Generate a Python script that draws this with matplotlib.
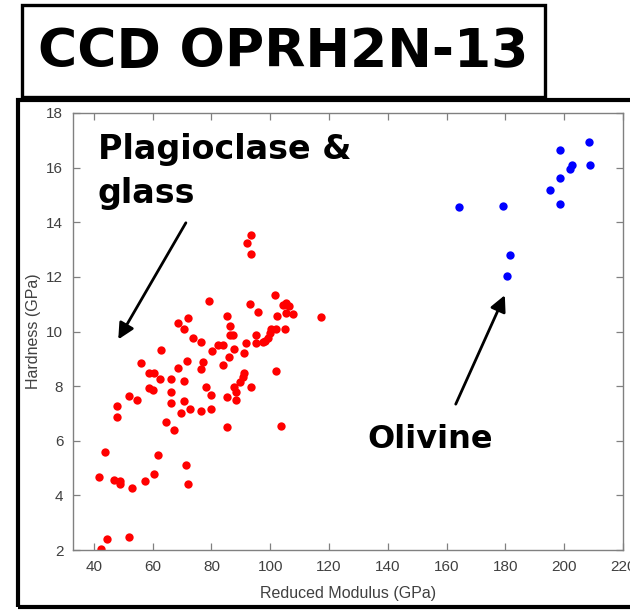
import matplotlib
matplotlib.use('Agg')
import matplotlib.pyplot as plt
from matplotlib.patches import Rectangle

# ================== data ==================
title_text = 'CCD OPRH2N-13'

# Plagioclase & glass (red)
plag_modulus = [71.9, 68.7, 70.7, 73.6, 62.8, 55.9, 71.7, 68.5, 58.7, 60.4,
                62.4, 66.2, 70.7, 58.7, 60.2, 51.9, 54.7, 66.1, 66.1, 70.7,
                47.8, 72.7, 69.6, 47.8, 64.6, 67.3, 93.6, 92.0, 93.5, 79.1,
                93.0, 101.5, 104.2, 105.5, 106.4, 105.2, 107.7, 96.0, 102.3, 117.3,
                85.3, 86.3, 86.4, 87.4, 100.3, 101.9, 104.9, 99.9, 95.2, 76.6,
                99.4, 98.3, 97.5, 91.9, 95.0, 82.2, 83.9, 80.2, 87.6, 91.0,
                85.9, 77.2, 83.8, 76.4, 102.1, 91.0, 90.6, 89.8, 78.0, 87.6,
                93.4, 79.8, 85.3, 88.2, 88.5, 76.4, 79.7, 85.2, 103.6, 43.9,
                61.9, 41.9, 47.0, 48.9, 48.8, 57.4, 60.4, 71.2, 72.1, 53.0,
                44.3, 52.0, 42.3]
plag_hardness = [10.50, 10.30, 10.09, 9.77, 9.34, 8.83, 8.93, 8.68, 8.47, 8.47,
                 8.26, 8.26, 8.18, 7.94, 7.85, 7.63, 7.51, 7.77, 7.39, 7.45,
                 7.29, 7.16, 7.00, 6.88, 6.69, 6.39, 13.53, 13.24, 12.84, 11.12,
                 11.00, 11.32, 10.97, 11.05, 10.93, 10.68, 10.64, 10.71, 10.56, 10.54,
                 10.56, 10.19, 9.89, 9.86, 10.08, 10.09, 10.09, 9.93, 9.89, 9.62,
                 9.75, 9.66, 9.62, 9.58, 9.58, 9.51, 9.49, 9.29, 9.36, 9.22,
                 9.07, 8.90, 8.77, 8.62, 8.55, 8.48, 8.32, 8.14, 7.95, 7.97,
                 7.95, 7.67, 7.62, 7.79, 7.49, 7.10, 7.16, 6.50, 6.53, 5.57,
                 5.47, 4.66, 4.56, 4.53, 4.40, 4.51, 4.77, 5.11, 4.40, 4.26,
                 2.42, 2.49, 2.02]

# Olivine (blue)
oliv_modulus = [164.3, 179.2, 181.5, 180.7, 195.0, 198.4, 198.4, 198.4,
                201.9, 202.7, 208.4, 208.9]
oliv_hardness = [14.55, 14.59, 12.81, 12.03, 15.17, 16.64, 15.61, 14.67,
                 15.95, 16.11, 16.95, 16.10]

x_ticks = [40, 60, 80, 100, 120, 140, 160, 180, 200, 220]
y_ticks = [2, 4, 6, 8, 10, 12, 14, 16, 18]

# ================== figure ==================
W, H = 630, 610
fig = plt.figure(figsize=(W / 100, H / 100), dpi=100)


def px(x, y):
    """像素坐标 -> figure 坐标"""
    return x / W, 1 - y / H


# 外框和标题框
x0, y0 = px(18, 607)
x1, y1 = px(640, 100)
fig.patches.append(Rectangle((x0, y0), x1 - x0, y1 - y0, transform=fig.transFigure,
                             fill=False, edgecolor='black', linewidth=3))
x0, y0 = px(22, 97)
x1, y1 = px(545, 5)
fig.patches.append(Rectangle((x0, y0), x1 - x0, y1 - y0, transform=fig.transFigure,
                             fill=False, edgecolor='black', linewidth=2.4))
fig.text((22 + 545) / 2 / W, 1 - 52 / H, title_text, ha='center', va='center',
         fontsize=38.5, fontweight='bold', family='DejaVu Sans')

# 坐标轴
left, bottom = px(73, 550)
right, top = px(623, 113)
ax = fig.add_axes([left, bottom, right - left, top - bottom])

ax.plot(plag_modulus, plag_hardness, 'o', color='red', markersize=6, markeredgewidth=0)
ax.plot(oliv_modulus, oliv_hardness, 'o', color='blue', markersize=6, markeredgewidth=0)

ax.set_xlim(32.9, 220)
ax.set_ylim(2, 18)
ax.set_xticks(x_ticks)
ax.set_yticks(y_ticks)

tick_color = '#404040'
for s in ax.spines.values():
    s.set_color('#808080')
    s.set_linewidth(1.0)
ax.tick_params(direction='in', length=5, width=0.9, color='#808080',
               top=True, right=True, labelsize=11, labelcolor=tick_color, pad=7)
for lab in ax.get_xticklabels() + ax.get_yticklabels():
    lab.set_family('Liberation Sans')

ax.set_xlabel('Reduced Modulus (GPa)', fontsize=11.5, color=tick_color,
              family='Liberation Sans', labelpad=9)
ax.set_ylabel('Hardness (GPa)', fontsize=11.5, color=tick_color,
              family='Liberation Sans', labelpad=4)

# 标注
ax.text(41.4, 16.32, 'Plagioclase &', fontsize=24, fontweight='bold',
        ha='left', va='baseline')
ax.text(41.4, 14.70, 'glass', fontsize=24, fontweight='bold',
        ha='left', va='baseline')
ax.annotate('', xy=(48.3, 9.71), xytext=(71.3, 13.98),
            arrowprops=dict(arrowstyle='-|>', color='black', lw=2, mutation_scale=24,
                            shrinkA=0, shrinkB=0))

ax.text(133.2, 5.73, 'Olivine', fontsize=23, fontweight='bold',
        ha='left', va='baseline')
ax.annotate('', xy=(179.8, 11.33), xytext=(163.1, 7.34),
            arrowprops=dict(arrowstyle='-|>', color='black', lw=2, mutation_scale=24,
                            shrinkA=0, shrinkB=0))

fig.savefig('out.png', dpi=100)
